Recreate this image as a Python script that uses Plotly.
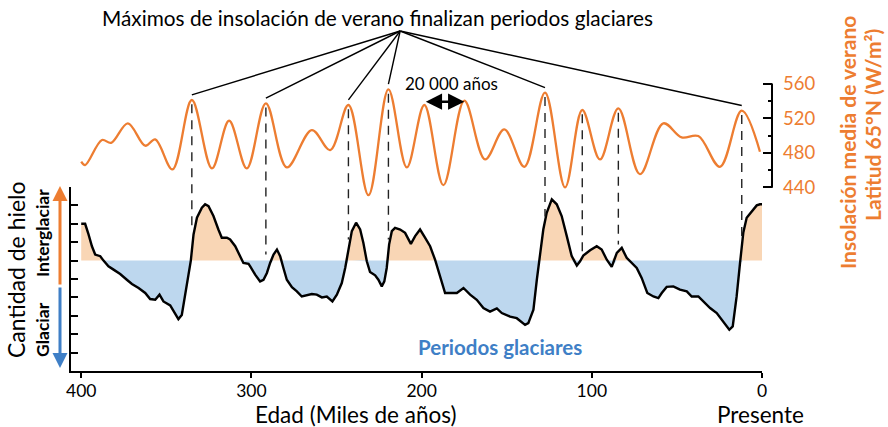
import plotly.graph_objects as go

# ---------------- data ----------------
# Summer insolation at 65N (W/m2), age in thousands of years
ins_age = [400.0, 397.7, 387.8, 382.4, 372.6, 362.4, 356.5, 346.4, 335.0, 323.2,
           313.1, 302.7, 291.5, 279.2, 264.5, 253.7, 243.0, 231.2, 219.5, 208.7,
           198.4, 187.2, 174.9, 162.7, 151.4, 139.6, 127.5, 115.7, 105.6, 95.2,
           84.4, 71.7, 58.0, 47.2, 37.4, 24.7, 11.9, 1.2]
ins_wm2 = [469.7, 465.8, 494.9, 491.7, 514.3, 488.3, 495.7, 460.8, 541.4, 462.0,
           517.3, 462.0, 537.6, 463.1, 506.5, 483.3, 535.6, 430.9, 553.8, 463.1,
           535.6, 442.6, 540.6, 472.4, 507.3, 463.8, 549.9, 439.9, 529.8, 472.4,
           531.7, 455.3, 514.3, 498.0, 499.5, 463.8, 529.0, 481.3]

# Ice amount (relative units, positive = interglacial)
ice_age = [400.0, 398.6, 397.7, 395.7, 393.7, 391.8, 388.8, 386.9, 384.0, 381.0,
           377.1, 373.2, 370.2, 366.3, 362.4, 359.5, 356.5, 354.0, 351.7, 347.7,
           344.8, 342.9, 340.9, 339.0, 337.0, 335.6, 334.0, 332.0, 329.1, 327.2,
           325.2, 322.3, 319.4, 317.4, 314.4, 312.5, 309.5, 306.6, 304.7, 301.7,
           300.7, 297.8, 294.9, 292.9, 290.9, 289.0, 287.0, 285.0, 283.1, 281.2,
           279.2, 276.2, 273.3, 270.4, 267.4, 264.5, 261.6, 258.6, 255.7, 252.4,
           249.8, 246.9, 244.9, 243.0, 241.0, 238.5, 236.1, 234.2, 232.2, 230.3,
           227.3, 225.4, 223.4, 221.9, 220.5, 219.1, 217.5, 215.6, 212.6, 209.7,
           206.3, 203.8, 200.9, 197.9, 195.0, 192.1, 189.1, 186.2, 183.3, 179.3,
           175.4, 171.5, 167.6, 163.7, 159.8, 155.8, 152.9, 148.0, 144.1, 139.2,
           137.3, 134.3, 132.3, 130.8, 128.5, 126.5, 123.5, 120.6, 117.7, 114.7,
           111.8, 108.8, 106.9, 105.0, 101.0, 97.1, 94.2, 91.2, 88.3, 85.3,
           82.4, 79.5, 76.5, 73.6, 70.7, 67.4, 63.8, 60.9, 58.9, 56.0,
           52.1, 48.2, 44.2, 41.3, 37.4, 34.5, 30.5, 26.6, 22.7, 19.2,
           17.2, 14.9, 12.9, 11.0, 9.0, 6.0, 3.1, 1.2, 0.0]
ice_val = [2.0, 2.0, 2.0, 1.42, 0.78, 0.33, 0.24, 0.0, -0.31, -0.49,
           -0.73, -1.04, -1.27, -1.49, -1.76, -2.09, -2.13, -1.85, -2.22, -2.44,
           -2.85, -3.18, -2.95, -1.85, -0.76, 0.0, 1.42, 2.33, 2.88, 3.06,
           2.96, 2.42, 1.69, 1.24, 1.24, 1.15, 0.78, 0.24, -0.13, -0.18,
           -0.31, -0.76, -1.13, -1.04, -0.67, -0.13, 0.33, 0.60, 0.24, -0.40,
           -1.04, -1.45, -1.67, -1.95, -1.89, -1.82, -1.85, -2.0, -1.95, -2.22,
           -1.85, -1.22, -0.40, 0.69, 1.60, 2.06, 1.69, 0.96, -0.04, -0.62,
           -0.80, -1.04, -1.40, -1.13, -0.40, 0.87, 1.60, 1.78, 1.69, 1.51,
           0.91, 1.33, 1.69, 1.24, 0.78, 0.05, -0.86, -1.76, -1.76, -1.76,
           -1.49, -1.85, -2.13, -2.58, -2.77, -2.60, -2.85, -3.04, -3.13, -3.49,
           -3.40, -2.67, -1.04, 0.05, 1.69, 2.60, 3.33, 3.06, 2.42, 1.33,
           0.24, -0.27, -0.04, 0.27, 0.56, 0.78, 0.60, 0.05, -0.34, 0.42,
           0.69, 0.15, -0.13, -0.40, -0.94, -1.76, -1.95, -2.04, -1.76, -1.43,
           -1.40, -1.58, -1.67, -1.95, -1.95, -2.22, -2.58, -2.85, -3.31, -3.76,
           -3.58, -1.95, -0.13, 1.51, 2.33, 2.69, 3.00, 3.06, 3.06]

# insolation maxima marked by dashed lines
peak_age = [335.0, 291.5, 243.0, 219.5, 127.5, 105.6, 84.4, 11.9]
peak_ins = [541.4, 537.6, 535.6, 553.8, 549.9, 529.8, 531.7, 529.0]
dash_end_ice = [1.8, 0.33, 1.15, 1.15, 2.4, 0.33, 0.87, 1.2]
title_peak_idx = [0, 1, 2, 3, 4, 7]
span_age = [198.4, 174.9]          # the "20 000 años" arrow

x_ticks = [400, 300, 200, 100, 0]
ins_ticks = [440, 480, 520, 560]

# ---------------- styling / layout ----------------
ORANGE = "#ED7D31"
BLUE = "#3F7FC6"
FILL_OR = "#F9D6B5"
FILL_BL = "#BDD7EE"
FONT = "Lato"

W, H = 888, 427
ML, MR, MT, MB = 71, 116, 80, 56
PW, PH = W - ML - MR, H - MT - MB


def px(x):
    return (x - ML) / PW


def py(y):
    return (H - MB - y) / PH


XD = [0, px(762)]
Y1D = [0, py(187)]
Y1R = [-6, 4]
Y2D = [py(200), 1]
Y2R = [425.25, 564.65]


def ins2paper(v):
    return Y2D[0] + (v - Y2R[0]) / (Y2R[1] - Y2R[0]) * (Y2D[1] - Y2D[0])


def ice2paper(v):
    return Y1D[0] + (v - Y1R[0]) / (Y1R[1] - Y1R[0]) * (Y1D[1] - Y1D[0])


pos = [max(v, 0) for v in ice_val]
neg = [min(v, 0) for v in ice_val]

fig = go.Figure()
fig.add_trace(go.Scatter(x=ice_age, y=pos, fill="tozeroy", fillcolor=FILL_OR,
                         mode="lines", line=dict(width=0), hoverinfo="skip"))
fig.add_trace(go.Scatter(x=ice_age, y=neg, fill="tozeroy", fillcolor=FILL_BL,
                         mode="lines", line=dict(width=0), hoverinfo="skip"))
fig.add_trace(go.Scatter(x=ice_age, y=ice_val, mode="lines",
                         line=dict(color="black", width=2.4)))
fig.add_trace(go.Scatter(x=ins_age, y=ins_wm2, mode="lines", xaxis="x2", yaxis="y2",
                         line=dict(color=ORANGE, width=2.3, shape="spline", smoothing=1.0)))

shapes = []
# dashed verticals
for a, pk, de in zip(peak_age, peak_ins, dash_end_ice):
    shapes.append(dict(type="line", xref="x", yref="paper", x0=a, x1=a,
                       y0=ins2paper(pk - 5), y1=ice2paper(de),
                       line=dict(color="#222", width=1.4, dash="9px,7px")))
# lines from title to maxima
conv_age = 212.6
for i in title_peak_idx:
    shapes.append(dict(type="line", xref="x", yref="paper", x0=conv_age, x1=peak_age[i],
                       y0=py(31), y1=ins2paper(peak_ins[i] + 6),
                       line=dict(color="black", width=1.4)))
# right axis spine
shapes.append(dict(type="line", xref="paper", yref="y2", x0=1, x1=1,
                   y0=ins_ticks[0] - 0.5, y1=ins_ticks[-1] + 0.5,
                   line=dict(color="black", width=2)))


def text_ann(text, x, y, size, color="black", angle=0, xa="center", ya="middle"):
    return dict(text=text, xref="paper", yref="paper", x=px(x), y=py(y),
                xanchor=xa, yanchor=ya, textangle=angle, showarrow=False,
                font=dict(size=size, color=color))


ann = [
    text_ann("Máximos de insolación de verano finalizan periodos glaciares", 377, 17, 20.8),
    text_ann("20 000 años", 451, 84, 17),
    text_ann("<b>Periodos glaciares</b>", 500, 347, 20.5, BLUE),
    text_ann("Edad (Miles de años)", 355, 414, 22.5),
    text_ann("Presente", 760, 414, 22.5),
    text_ann("Cantidad de hielo", 16, 270, 23, angle=-90),
    text_ann("<b>Interglaciar</b>", 42, 233, 17.5, angle=-90),
    text_ann("<b>Glaciar</b>", 42, 330, 17.5, angle=-90),
    text_ann("<b>Insolación media de verano</b>", 847, 143, 21, ORANGE, angle=-90),
    text_ann("<b>Latitud 65°N (W/m²)</b>", 872, 125, 21, ORANGE, angle=-90),
]
ann.append(dict(text="", xref="x2", yref="y2", x=span_age[1], y=539.5,
                axref="x2", ayref="y2", ax=span_age[0], ay=539.5, showarrow=True,
                arrowhead=2, startarrowhead=2, arrowside="end+start",
                arrowwidth=2.5, arrowsize=1.3, startarrowsize=1.3, arrowcolor="black"))
ann.append(dict(text="", xref="paper", yref="paper", x=px(60), y=py(186), ax=0, ay=100,
                showarrow=True, arrowhead=2, arrowsize=1, arrowwidth=3, arrowcolor=ORANGE))
ann.append(dict(text="", xref="paper", yref="paper", x=px(60), y=py(368), ax=0, ay=-82,
                showarrow=True, arrowhead=2, arrowsize=1, arrowwidth=3, arrowcolor=BLUE))

fig.update_layout(
    width=W, height=H,
    margin=dict(l=ML, r=MR, t=MT, b=MB, pad=0),
    paper_bgcolor="white", plot_bgcolor="rgba(0,0,0,0)",
    showlegend=False, hovermode=False,
    font=dict(family=FONT, color="black"),
    shapes=shapes, annotations=ann,
    xaxis=dict(domain=XD, range=[406, 0], anchor="y", showline=True, linewidth=2,
               linecolor="black", ticks="outside", ticklen=5, tickwidth=2,
               tickcolor="black", tickvals=x_ticks, showgrid=False, zeroline=False,
               ticklabelstandoff=-2, tickfont=dict(size=17.5, color="black")),
    yaxis=dict(domain=Y1D, range=Y1R, anchor="x", showline=True, linewidth=2,
               linecolor="black", ticks="inside", ticklen=7, tickwidth=2,
               tickcolor="black", dtick=1, tick0=0, showticklabels=False,
               showgrid=False, zeroline=False),
    xaxis2=dict(domain=XD, range=[406, 0], anchor="y2", matches="x", visible=False),
    yaxis2=dict(domain=Y2D, range=Y2R, anchor="free", position=1, side="right",
                showline=False, ticks="inside", ticklen=9, tickwidth=2, tickcolor="black",
                tickvals=ins_ticks, showgrid=False, zeroline=False, ticklabelstandoff=10,
                minor=dict(ticks="inside", ticklen=4, tickwidth=2, tickcolor="black",
                           tickvals=[460, 500, 540]),
                tickfont=dict(size=18.5, color=ORANGE)),
)

fig.write_html("out.html", config={"displayModeBar": False},
               post_script="document.body.style.margin='0px';")
